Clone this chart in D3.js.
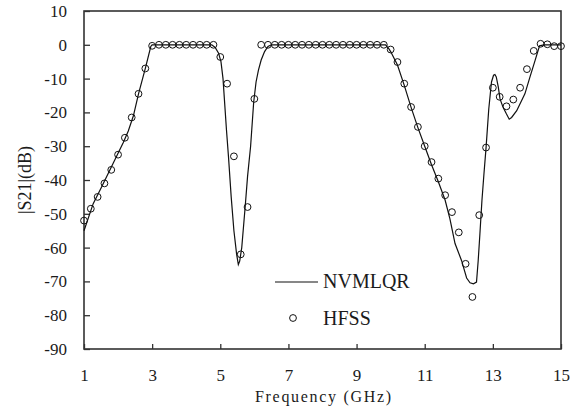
<!DOCTYPE html>
<html><head><meta charset="utf-8">
<script src="https://cdn.jsdelivr.net/npm/d3@7"></script>
<style>
body{margin:0;background:#fff;}
svg{display:block;font-family:"Liberation Serif","Times New Roman",serif;}
</style></head>
<body>
<script>
// ---- data ----
const xTicks = [1, 3, 5, 7, 9, 11, 13, 15];
const yTicks = [-90, -80, -70, -60, -50, -40, -30, -20, -10, 0, 10];

// NVMLQR model curve (GHz, dB)
const lineFreq = [1.0, 1.27, 1.52, 1.86, 2.15, 2.3, 2.45, 2.6, 2.8, 2.96, 3.0,
  4.75, 4.85, 4.95, 5.02, 5.08, 5.12, 5.18, 5.24, 5.32, 5.4, 5.48, 5.53, 5.57, 5.63, 5.73, 5.8, 5.89, 5.98, 6.05, 6.12, 6.2, 6.3, 6.4, 6.5,
  9.85, 9.95, 10.0, 10.2, 10.4, 10.6, 10.8, 11.0, 11.2, 11.4, 11.6, 11.74, 11.89, 12.08, 12.23, 12.33, 12.43, 12.52, 12.57, 12.62, 12.68, 12.74, 12.8, 12.88, 12.96, 13.02, 13.06, 13.1, 13.16, 13.21, 13.3, 13.4, 13.48, 13.55, 13.7, 13.94, 14.09, 14.24, 14.37, 14.5, 15.0];
const lineDb = [-55, -47, -42, -35, -29, -25.5, -21, -14.5, -7, -0.5, 0,
  0, -0.8, -2.5, -5, -10, -16, -25, -33, -45, -55, -62, -65, -64, -60, -48, -39, -30, -17, -11, -7.5, -4.5, -2, -0.5, 0,
  0, -1.2, -2, -6, -12, -18.5, -24.5, -30, -35.5, -40.5, -46, -51.5, -58.8, -63.8, -69, -70.4, -70.7, -70.2, -63.8, -55.9, -46, -38, -30.5, -19, -11, -9, -8.8, -9.5, -12.5, -16, -18.5, -20.5, -22, -21.5, -19.5, -14.5, -9.5, -4.6, -0.3, 0, 0];

// HFSS simulation points (GHz, dB)
const hfssFreq = [1.0, 1.2, 1.4, 1.6, 1.8, 2.0, 2.2, 2.4, 2.6, 2.8, 3.0, 3.2, 3.4, 3.6, 3.8, 4.0, 4.2, 4.4, 4.6, 4.8,
  5.0, 5.2, 5.4, 5.6, 5.8, 6.0, 6.2, 6.4, 6.6, 6.8, 7.0, 7.2, 7.4, 7.6, 7.8, 8.0, 8.2, 8.4, 8.6, 8.8, 9.0, 9.2, 9.4, 9.6, 9.8,
  10.0, 10.2, 10.4, 10.6, 10.8, 11.0, 11.2, 11.4, 11.6, 11.8, 12.0, 12.2, 12.4, 12.6, 12.8, 13.0, 13.2, 13.4, 13.6, 13.8, 14.0, 14.2, 14.4, 14.6, 14.8, 15.0];
const hfssDb = [-52, -48.5, -45, -41, -37, -32.5, -27.5, -21.5, -14.5, -7, -0.3, 0, 0, 0, 0, 0, 0, 0, 0, 0,
  -3.6, -11.5, -33, -62, -48, -16, 0, 0, 0, 0, 0, 0, 0, 0, 0, 0, 0, 0, 0, 0, 0, 0, 0, 0, 0,
  -1.4, -5.1, -11.5, -18.4, -24.3, -30, -34.7, -39.6, -44.5, -49.5, -55.5, -64.8, -74.6, -50.4, -30.4, -12.7, -15.4, -18.2, -16.2, -12.7, -7.2, -1.8, 0.3, 0.15, -0.4, -0.4];

const seriesNames = ["NVMLQR", "HFSS"];
const xTitle = "Frequency (GHz)";
const yTitle = "|S21|(dB)";

// ---- chart ----
const W = 576, H = 410;
const svg = d3.select("body").append("svg").attr("width", W).attr("height", H);
const x = d3.scaleLinear().domain([1, 15]).range([84, 561]);
const y = d3.scaleLinear().domain([-90, 10]).range([349, 11]);

const ink = "#1b1b1b";
const fmt = d => String(d); // plain hyphen-minus like the reference

// axes
const gx = svg.append("g").attr("transform", `translate(0,${y(-90)})`)
  .call(d3.axisBottom(x).tickValues(xTicks).tickFormat(fmt)
    .tickSizeInner(-5).tickSizeOuter(0).tickPadding(20));
const gy = svg.append("g").attr("transform", `translate(${x(1)},0)`)
  .call(d3.axisLeft(y).tickValues(yTicks).tickFormat(fmt)
    .tickSizeInner(-6).tickSizeOuter(0).tickPadding(17));
[gx, gy].forEach(g => {
  g.selectAll("path.domain").remove();
  g.selectAll("line").attr("stroke", "#333").attr("stroke-width", 1.3);
  g.selectAll("text").attr("fill", ink).style("font-size", "17px")
    .style("font-family", '"Liberation Serif","Times New Roman",serif');
});

// frame
svg.append("rect").attr("x", x(1)).attr("y", y(10))
  .attr("width", x(15) - x(1)).attr("height", y(-90) - y(10))
  .attr("fill", "none").attr("stroke", "#333").attr("stroke-width", 1.6);

// model line
const lineData = lineFreq.map((f, i) => [f, lineDb[i]]);
svg.append("path").datum(lineData)
  .attr("fill", "none").attr("stroke", "#111").attr("stroke-width", 1.2)
  .attr("d", d3.line().x(d => x(d[0])).y(d => y(d[1])));

// HFSS circles
const hfssData = hfssFreq.map((f, i) => [f, hfssDb[i]]);
svg.append("g").selectAll("circle").data(hfssData).join("circle")
  .attr("cx", d => x(d[0])).attr("cy", d => y(d[1])).attr("r", 3.4)
  .attr("fill", "none").attr("stroke", "#111").attr("stroke-width", 1);

// legend
const lg = svg.append("g");
lg.append("line").attr("x1", 275).attr("x2", 318).attr("y1", 282).attr("y2", 282)
  .attr("stroke", "#111").attr("stroke-width", 1.2);
lg.append("text").attr("x", 323).attr("y", 288).attr("fill", ink)
  .style("font-size", "20px").text(seriesNames[0]);
lg.append("circle").attr("cx", 293).attr("cy", 318).attr("r", 3.4)
  .attr("fill", "none").attr("stroke", "#111").attr("stroke-width", 1);
lg.append("text").attr("x", 323).attr("y", 325).attr("fill", ink)
  .style("font-size", "20px").text(seriesNames[1]);

// titles
svg.append("text").attr("x", 323).attr("y", 402).attr("text-anchor", "middle")
  .attr("fill", ink).style("font-size", "16px")
  .attr("textLength", 136).attr("lengthAdjust", "spacing").text(xTitle);
svg.append("text").attr("transform", "translate(31,180) rotate(-90)")
  .attr("text-anchor", "middle").attr("fill", ink).style("font-size", "18px").text(yTitle);
</script>
</body></html>
